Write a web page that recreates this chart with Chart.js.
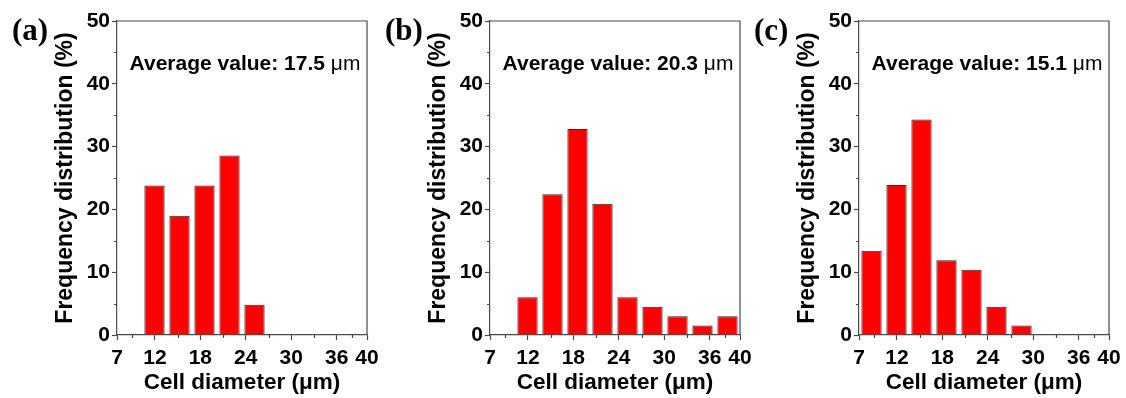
<!DOCTYPE html>
<html>
<head>
<meta charset="utf-8">
<script src="https://cdn.jsdelivr.net/npm/chart.js@4.4.1/dist/chart.umd.min.js"></script>
<style>
    html, body { margin: 0; padding: 0; background: #fff; }
    #wrap { position: relative; width: 1126px; height: 398px; overflow: hidden; }
    canvas { position: absolute; top: 0; }
</style>
</head>
<body>
<div id="wrap">
    <canvas id="chartA" width="382" height="398" style="left:0px"></canvas>
    <canvas id="chartB" width="382" height="398" style="left:373px"></canvas>
    <canvas id="chartC" width="382" height="398" style="left:742px"></canvas>
</div>
<script>
// Histogram data (bin centres in um, frequency in %)
const binCenters = [8.65, 11.95, 15.25, 18.55, 21.85, 25.15, 28.45, 31.75, 35.05, 38.35];
const freqA = [null, 23.8, 19.0, 23.8, 28.6, 4.8, null, null, null, null];
const freqB = [null, 6.0, 22.4, 32.8, 20.9, 6.0, 4.5, 3.0, 1.5, 3.0];
const freqC = [13.4, 23.9, 34.3, 11.9, 10.4, 4.5, 1.5, null, null, null];

const xMajorTicks = [7, 12, 18, 24, 30, 36, 40];
const xMinorTicks = [9, 15, 21, 27, 33, 38];
const yMajorTicks = [0, 10, 20, 30, 40, 50];
const yMinorTicks = [5, 15, 25, 35, 45];

const panelLabels = ['(a)', '(b)', '(c)'];
const averages = ['17.5', '20.3', '15.1'];

const AXIS = '#4a4a4a';
const SANS = '"Liberation Sans", Arial, sans-serif';

// frame, minor ticks, panel letter and average annotation
const extras = {
    id: 'extras',
    afterDraw(chart, args, opts) {
        const { ctx, chartArea: a, scales: { x, y } } = chart;
        ctx.save();
        ctx.strokeStyle = AXIS;
        ctx.lineWidth = 1.2;
        ctx.beginPath();
        ctx.moveTo(a.left, a.top);
        ctx.lineTo(a.right, a.top);
        ctx.lineTo(a.right, a.bottom);
        xMinorTicks.forEach(v => {
            const px = Math.round(x.getPixelForValue(v)) + 0.5;
            ctx.moveTo(px, a.bottom);
            ctx.lineTo(px, a.bottom + 3);
        });
        yMinorTicks.forEach(v => {
            const py = Math.round(y.getPixelForValue(v)) + 0.5;
            ctx.moveTo(a.left, py);
            ctx.lineTo(a.left - 3, py);
        });
        ctx.stroke();

        ctx.fillStyle = '#000';
        ctx.font = 'bold 31px "Liberation Serif", "Times New Roman", serif';
        ctx.textBaseline = 'alphabetic';
        ctx.textAlign = 'left';
        ctx.fillText(opts.label, 12, 40);

        // "Average value: xx.x um"
        const main = 'Average value: ' + opts.average + ' ';
        const unit = '\u03bcm';
        ctx.font = 'bold 21px ' + SANS;
        const w1 = ctx.measureText(main).width;
        ctx.font = '21px ' + SANS;
        const w2 = ctx.measureText(unit).width;
        const cx = (a.left + a.right) / 2 + 3;
        const x0 = cx - (w1 + w2) / 2;
        const ty = a.top + 43;
        ctx.textBaseline = 'middle';
        ctx.font = 'bold 21px ' + SANS;
        ctx.fillText(main, x0, ty);
        ctx.font = '21px ' + SANS;
        ctx.fillText(unit, x0 + w1, ty);
        ctx.restore();
    }
};

function makeChart(id, values, label, average) {
    const ctx = document.getElementById(id).getContext('2d');
    return new Chart(ctx, {
        type: 'bar',
        data: {
            datasets: [{
                data: binCenters.map((c, i) => ({ x: c, y: values[i] })),
                backgroundColor: '#ff0000',
                borderColor: '#2b2b2b',
                borderWidth: 1,
                categoryPercentage: 1.0,
                barPercentage: 0.81,
            }]
        },
        options: {
            responsive: false,
            devicePixelRatio: 1,
            animation: false,
            layout: { padding: { left: 0, right: 15, top: 21, bottom: 0 } },
            plugins: {
                legend: { display: false },
                tooltip: { enabled: false },
                extras: { label: label, average: average }
            },
            scales: {
                x: {
                    type: 'linear',
                    min: 7,
                    max: 40,
                    offset: false,
                    afterBuildTicks: s => { s.ticks = xMajorTicks.map(v => ({ value: v })); },
                    afterFit: s => { s.height = 63; s.paddingLeft = 0; s.paddingRight = 0; },
                    grid: {
                        display: true, drawOnChartArea: false, drawTicks: true, offset: false,
                        tickLength: 5, tickColor: AXIS, tickWidth: 1.2
                    },
                    border: { display: true, color: AXIS, width: 1.2 },
                    ticks: {
                        autoSkip: false, maxRotation: 0, color: '#000', padding: 6,
                        font: { family: SANS, size: 21, weight: 'bold' }
                    },
                    title: {
                        display: true, text: 'Cell diameter (\u03bcm)', color: '#000',
                        font: { family: SANS, size: 22.5, weight: 'bold' },
                        padding: { top: 0, bottom: 2 }
                    }
                },
                y: {
                    min: 0,
                    max: 50,
                    afterBuildTicks: s => { s.ticks = yMajorTicks.map(v => ({ value: v })); },
                    afterFit: s => { s.width = 117; s.paddingTop = 0; s.paddingBottom = 0; },
                    grid: {
                        display: true, drawOnChartArea: false, drawTicks: true,
                        tickLength: 5, tickColor: AXIS, tickWidth: 1.2
                    },
                    border: { display: true, color: AXIS, width: 1.2 },
                    ticks: {
                        color: '#000', padding: 2,
                        font: { family: SANS, size: 21, weight: 'bold' }
                    },
                    title: {
                        display: true, text: 'Frequency distribution (%)', color: '#000',
                        font: { family: SANS, size: 23, weight: 'bold' },
                        padding: { top: 52, bottom: 0 }
                    }
                }
            }
        },
        plugins: [extras]
    });
}

makeChart('chartA', freqA, panelLabels[0], averages[0]);
makeChart('chartB', freqB, panelLabels[1], averages[1]);
makeChart('chartC', freqC, panelLabels[2], averages[2]);
</script>
</body>
</html>
